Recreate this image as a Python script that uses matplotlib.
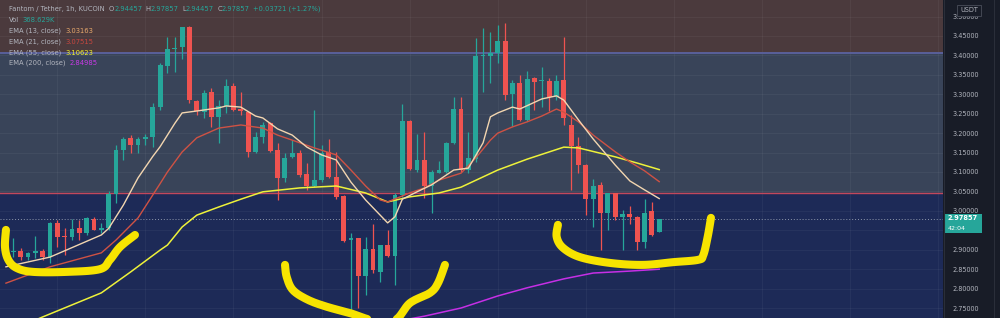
import numpy as np
import matplotlib
matplotlib.use('Agg')
import matplotlib.pyplot as plt
from matplotlib.patches import Rectangle
from matplotlib.lines import Line2D

# ---------------- data ----------------
opens = [2.895, 2.893, 2.897, 2.880, 2.891, 2.897, 2.880, 2.968, 2.935, 2.934,
         2.955, 2.942, 2.979, 2.951, 2.955, 3.043, 3.157, 3.188, 3.170, 3.184,
         3.189, 3.266, 3.374, 3.416, 3.422, 3.474, 3.283, 3.255, 3.305, 3.242,
         3.270, 3.322, 3.262, 3.255, 3.152, 3.189, 3.225, 3.157, 3.084, 3.138,
         3.150, 3.095, 3.064, 3.079, 3.152, 3.088, 3.039, 2.925, 2.929, 2.832,
         2.903, 2.8435, 2.912, 2.884, 3.041, 3.232, 3.105, 3.131, 3.065, 3.098,
         3.101, 3.1755, 3.263, 3.105, 3.134, 3.398, 3.3985, 3.405, 3.438, 3.300,
         3.330, 3.234, 3.341, 3.334, 3.333, 3.294, 3.337, 3.221, 3.167, 3.118,
         3.0305, 3.0665, 2.9936, 3.045, 2.985, 2.992, 2.985, 2.921, 2.9996, 2.94457]
highs = [2.910, 2.930, 2.905, 2.895, 2.935, 2.903, 2.972, 2.976, 2.957, 2.979,
         2.976, 2.985, 2.983, 2.968, 3.052, 3.170, 3.191, 3.195, 3.189, 3.199,
         3.277, 3.380, 3.448, 3.448, 3.474, 3.476, 3.285, 3.311, 3.315, 3.285,
         3.3385, 3.328, 3.307, 3.257, 3.204, 3.2295, 3.2295, 3.174, 3.148, 3.182,
         3.157, 3.122, 3.260, 3.170, 3.184, 3.152, 3.040, 2.942, 2.930, 2.934,
         2.966, 2.913, 2.952, 3.045, 3.275, 3.234, 3.197, 3.202, 3.105, 3.129,
         3.178, 3.292, 3.294, 3.204, 3.444, 3.470, 3.461, 3.478, 3.484, 3.337,
         3.350, 3.361, 3.344, 3.371, 3.341, 3.350, 3.448, 3.247, 3.191, 3.120,
         3.081, 3.075, 3.047, 3.047, 3.002, 3.0125, 2.987, 3.030, 3.024, 2.97857]
lows = [2.882, 2.880, 2.873, 2.874, 2.878, 2.874, 2.865, 2.908, 2.886, 2.925,
        2.925, 2.938, 2.950, 2.942, 2.951, 3.019, 3.131, 3.148, 3.148, 3.170,
        3.165, 3.260, 3.354, 3.358, 3.390, 3.277, 3.247, 3.238, 3.217, 3.174,
        3.251, 3.257, 3.247, 3.139, 3.148, 3.174, 3.152, 3.028, 3.075, 3.135,
        3.088, 3.054, 3.062, 3.075, 3.084, 3.030, 2.921, 2.741, 2.749, 2.784,
        2.839, 2.818, 2.882, 2.809, 3.036, 3.105, 3.101, 3.032, 2.994, 3.097,
        3.097, 3.172, 3.101, 3.097, 3.127, 3.307, 3.328, 3.380, 3.285, 3.218,
        3.232, 3.232, 3.259, 3.268, 3.257, 3.285, 3.221, 3.054, 3.097, 2.989,
        2.959, 2.899, 2.951, 2.9765, 2.899, 2.966, 2.899, 2.904, 2.935, 2.94457]
closes = [2.897, 2.897, 2.880, 2.891, 2.897, 2.880, 2.970, 2.934, 2.933, 2.954,
          2.942, 2.981, 2.952, 2.957, 3.043, 3.157, 3.184, 3.170, 3.184, 3.189,
          3.268, 3.375, 3.416, 3.419, 3.472, 3.285, 3.257, 3.304, 3.241, 3.270,
          3.321, 3.2595, 3.257, 3.152, 3.191, 3.221, 3.155, 3.084, 3.136, 3.150,
          3.092, 3.064, 3.079, 3.148, 3.088, 3.0365, 2.923, 2.929, 2.832, 2.903,
          2.848, 2.912, 2.884, 3.041, 3.232, 3.107, 3.131, 3.065, 3.101, 3.105,
          3.1755, 3.261, 3.105, 3.136, 3.3985, 3.401, 3.405, 3.438, 3.298, 3.330,
          3.234, 3.339, 3.332, 3.336, 3.294, 3.334, 3.238, 3.167, 3.118, 3.0296,
          3.0648, 2.9936, 3.045, 2.985, 2.991, 2.983, 2.921, 2.9953, 2.938, 2.97857]

ema13_i = [0, 6, 13, 14, 16, 18, 20, 21, 22, 23, 24, 26, 29, 30, 32, 34, 35, 37, 39, 41, 43, 45,
           47, 49, 52, 53, 54, 56, 58, 61, 63, 65, 66, 67, 69, 70, 73, 75, 76, 78, 80, 83, 85, 87, 89]
ema13_v = [2.856, 2.881, 2.938, 2.955, 3.015, 3.085, 3.140, 3.165, 3.195, 3.225, 3.252, 3.257,
           3.265, 3.270, 3.267, 3.244, 3.239, 3.211, 3.195, 3.164, 3.144, 3.131, 3.074, 3.028,
           2.969, 2.985, 3.030, 3.049, 3.067, 3.105, 3.110, 3.175, 3.242, 3.252, 3.267, 3.262,
           3.288, 3.296, 3.285, 3.234, 3.185, 3.118, 3.077, 3.054, 3.03163]
ema21_i = [0, 6, 13, 15, 18, 21, 22, 24, 26, 29, 32, 35, 37, 39, 42, 45, 47, 49, 51, 52, 55,
           57, 59, 62, 64, 66, 67, 69, 71, 73, 75, 76, 78, 80, 83, 85, 87, 89]
ema21_v = [2.814, 2.856, 2.892, 2.925, 2.982, 3.070, 3.100, 3.1515, 3.188, 3.213, 3.221, 3.213,
           3.195, 3.182, 3.162, 3.144, 3.105, 3.064, 3.028, 3.023, 3.046, 3.059, 3.079, 3.097,
           3.136, 3.182, 3.200, 3.216, 3.229, 3.244, 3.262, 3.254, 3.229, 3.195, 3.152, 3.126,
           3.103, 3.07515]
ema55_i = [4, 5, 13, 17, 21, 22, 24, 26, 29, 32, 35, 40, 45, 49, 52, 55, 59, 62, 67, 71, 76,
           78, 83, 86, 89]
ema55_v = [2.719, 2.727, 2.789, 2.843, 2.899, 2.912, 2.9585, 2.989, 3.010, 3.030, 3.049, 3.059,
           3.064, 3.046, 3.023, 3.036, 3.046, 3.061, 3.105, 3.133, 3.164, 3.162, 3.139, 3.123,
           3.10623]
ema200_i = [53, 55, 57, 62, 67, 71, 76, 80, 85, 89]
ema200_v = [2.716, 2.722, 2.729, 2.750, 2.781, 2.802, 2.825, 2.840, 2.845, 2.84985]

price_ticks = [2.75, 2.80, 2.85, 2.90, 2.95, 3.00, 3.05, 3.10, 3.15, 3.20,
               3.25, 3.30, 3.35, 3.40, 3.45, 3.50]
hidden_tick = 2.95   # covered by the last-price tag
zone_top = 3.406
zone_bottom = 3.045

# hand-drawn highlight strokes (candle index, price)
mark1_x = [0.0, -0.13, 0.32, 1.46, 3.68, 8.32, 12.81, 14.17, 15.54, 17.58]
mark1_y = [2.951, 2.907, 2.874, 2.853, 2.843, 2.843, 2.850, 2.874, 2.907, 2.938]
mark2_x = [38.02, 38.25, 39.1, 41.15, 43.74, 46.87, 49.87, 53.0, 55.05, 57.77, 58.86, 59.81]
mark2_y = [2.861, 2.830, 2.796, 2.771, 2.753, 2.737, 2.719, 2.719, 2.763, 2.789, 2.814, 2.861]
mark3_x = [75.2, 75.03, 75.89, 78.2, 82.3, 86.8, 90.9, 94.3, 95.0, 95.6, 96.05]
mark3_y = [2.964, 2.933, 2.905, 2.881, 2.866, 2.861, 2.868, 2.874, 2.886, 2.933, 2.982]

# ---------------- style ----------------
W, H = 1000, 318
C_TOP = '#4b3a3d'
C_MID = '#394459'
C_BOT = '#1d2a57'
C_AXBG = '#181c27'
TEAL = '#26a69a'
RED = '#ef5350'
GRAY = '#b2b5be'

fig = plt.figure(figsize=(W / 100, H / 100), dpi=100)
fig.patch.set_facecolor(C_AXBG)
ax = fig.add_axes([0, 0, 943 / W, 1])
ax.set_xlim(-0.81, 127.66)
ax.set_ylim(2.7243, 3.5426)
for s in ax.spines.values():
    s.set_visible(False)

ax.axhspan(zone_top, 4.0, color=C_TOP, zorder=0)
ax.axhspan(zone_bottom, zone_top, color=C_MID, zorder=0)
ax.axhspan(2.0, zone_bottom, color=C_BOT, zorder=0)

for t in price_ticks:
    ax.axhline(t, color='white', alpha=0.045, lw=0.7, zorder=0.5)
for g in range(7, 128, 12):
    ax.axvline(g, color='white', alpha=0.045, lw=0.7, zorder=0.5)

ax.axhline(zone_top, color='#5b62a0', lw=1.3, zorder=1)
ax.axhline(zone_bottom, color='#c2485c', lw=1.0, zorder=1)

idx = np.arange(len(closes))
o = np.array(opens); c = np.array(closes)
cols = [TEAL if cc >= oo else RED for oo, cc in zip(o, c)]
ax.vlines(idx, lows, highs, colors=cols, lw=0.9, zorder=3)
heights = np.maximum(np.abs(c - o), 0.0025)
bottoms = np.minimum(o, c)
ax.bar(idx, heights, bottom=bottoms, width=0.66, color=cols, linewidth=0, zorder=3.1)

ax.axhline(closes[-1], color='#8f98ab', lw=0.7, ls=(0, (1, 2)), zorder=2.5)

ax.plot(ema200_i, ema200_v, color='#c62fe6', lw=1.1, zorder=4)
ax.plot(ema55_i, ema55_v, color='#eef23a', lw=1.1, zorder=4)
ax.plot(ema21_i, ema21_v, color='#cf5244', lw=1.0, zorder=4)
ax.plot(ema13_i, ema13_v, color='#f3d6b0', lw=1.0, zorder=4)


def smooth(xs, ys, n=12):
    pts = np.column_stack([xs, ys]).astype(float)
    p = np.vstack([pts[0], pts, pts[-1]])
    out = []
    t = np.linspace(0, 1, n, endpoint=False)[:, None]
    for k in range(1, len(p) - 2):
        p0, p1, p2, p3 = p[k - 1], p[k], p[k + 1], p[k + 2]
        seg = 0.5 * ((2 * p1) + (-p0 + p2) * t + (2 * p0 - 5 * p1 + 4 * p2 - p3) * t ** 2
                     + (-p0 + 3 * p1 - 3 * p2 + p3) * t ** 3)
        out.append(seg)
    out.append(pts[-1][None])
    return np.vstack(out)


for mx, my in [(mark1_x, mark1_y), (mark2_x, mark2_y), (mark3_x, mark3_y)]:
    sp = smooth(mx, my)
    ax.plot(sp[:, 0], sp[:, 1], color='#f7e400', lw=5.8, solid_capstyle='round',
            solid_joinstyle='round', zorder=6)

ax.set_xticks([])
ax.yaxis.tick_right()
ax.set_yticks(price_ticks)
ax.set_yticklabels(['' if abs(t - hidden_tick) < 1e-9 else f'{t:.5f}' for t in price_ticks])
ax.tick_params(axis='y', length=0, pad=6.5, labelsize=4.7, labelcolor=GRAY)

# axis separators
fig.add_artist(Line2D([943.5 / W] * 2, [0, 1], color='#2a2e39', lw=0.8))
fig.add_artist(Line2D([993.5 / W] * 2, [0, 1], color='#2a2e39', lw=0.8))

# USDT tag
fig.add_artist(Rectangle((957 / W, 1 - 16 / H), 24 / W, 11 / H, transform=fig.transFigure,
                         facecolor=C_AXBG, edgecolor='#4a4e5a', lw=0.6))
fig.text(969 / W, 1 - 10.5 / H, 'USDT', color=GRAY, fontsize=4.7, ha='center', va='center')

# last price tag
fig.add_artist(Rectangle((945 / W, 1 - 233 / H), 37 / W, 19 / H, transform=fig.transFigure,
                         facecolor=TEAL, edgecolor='none'))
fig.text(948 / W, 1 - 218.5 / H, f'{closes[-1]:.5f}', color='white', fontsize=4.8,
         fontweight='bold', va='center', ha='left')
fig.text(948 / W, 1 - 229 / H, '42:04', color='white', fontsize=4.5, va='center', ha='left')

# legend rows
FS = 4.9


def row(parts, x, y):
    first = parts[0]
    prev = fig.text(x / W, 1 - y / H, first[0], color=first[1], fontsize=FS,
                    va='center', ha='left')
    for s, col, gap in parts[1:]:
        prev = ax.annotate(s, xy=(1, 0), xycoords=prev, xytext=(gap, 0),
                           textcoords='offset points', ha='left', va='bottom',
                           color=col, fontsize=FS)


row([('Fantom / Tether, 1h, KUCOIN', GRAY), ('O', GRAY, 3.2), ('2.94457', TEAL, 0),
     ('H', GRAY, 2.5), ('2.97857', TEAL, 0), ('L', GRAY, 2.5), ('2.94457', TEAL, 0),
     ('C', GRAY, 2.5), ('2.97857', TEAL, 0), ('+0.03721 (+1.27%)', TEAL, 2.5)], 9, 9)
row([('Vol', GRAY), ('368.629K', TEAL, 2.5)], 9, 20)
row([('EMA (13, close)', GRAY), ('3.03163', '#e8a96c', 3.0)], 9, 31)
row([('EMA (21, close)', GRAY), ('3.07515', '#c8473f', 3.0)], 9, 42)
row([('EMA (55, close)', GRAY), ('3.10623', '#f5f52a', 3.0)], 9, 52.5)
row([('EMA (200, close)', GRAY), ('2.84985', '#c83ae6', 3.0)], 9, 63)

fig.savefig('out.png', dpi=100, facecolor=fig.get_facecolor())
